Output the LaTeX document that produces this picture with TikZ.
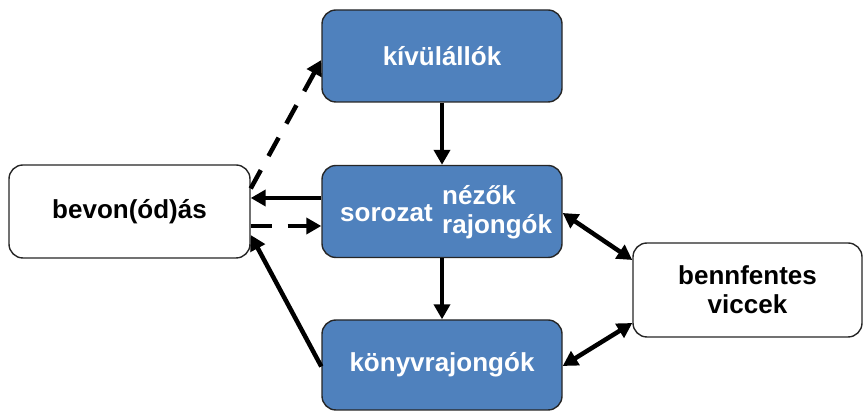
\documentclass[tikz,border=0pt]{standalone}
\usepackage{fontspec}
\setmainfont{Liberation Sans}
\usetikzlibrary{arrows.meta}
\definecolor{boxblue}{HTML}{4F81BD}
\begin{document}
\begin{tikzpicture}[x=1pt,y=1pt,
  every node/.style={font=\fontsize{26}{31}\selectfont\bfseries},
  bluebox/.style={draw=black!85,line width=1.4pt,fill=boxblue,rounded corners=14pt,
    minimum width=240pt,minimum height=92pt,text=white,inner sep=0pt},
  whitebox/.style={draw=black!85,line width=1.4pt,fill=white,rounded corners=14pt,
    inner sep=0pt,align=center},
  label/.style={text=white,inner sep=0pt},
  tip/.style={Triangle[length=15pt,width=16pt]},
  conn/.style={line width=4.5pt,-{Triangle[length=15pt,width=16pt]}},
  dconn/.style={conn,dash pattern=on 21pt off 16pt},
  biconn/.style={line width=4.5pt,{Triangle[length=15pt,width=16pt]}-{Triangle[length=15pt,width=16pt]}}]
\useasboundingbox (0,0) rectangle (863,412);
% boxes (centres given with y measured upward)
\node[bluebox] (kiv) at (442,356) {kívülállók};
\node[bluebox] (mid) at (442,200.5) {};
\node[bluebox,minimum height=90pt] (bot) at (442,47) {könyvrajongók};
\node[whitebox,minimum width=241pt,minimum height=93pt] (bev) at (129.5,200.5) {bevon(ód)ás};
\node[whitebox,minimum width=229pt,minimum height=94pt] (ben) at (747.5,122) {bennfentes\\[-2pt]viccek};
% texts of the middle box
\node[label,anchor=west] (sor) at (340,199) {sorozat};
\node[label,anchor=west,align=left] (nez) at (442,200) {nézők\\[-2pt]rajongók};
% connectors
\draw[conn] (kiv.south) -- (mid.north);
\draw[conn] (mid.south) -- (bot.north);
\draw[conn] ([yshift=13.5pt]mid.west) -- ([yshift=13.5pt]bev.east);
\draw[dconn] ([yshift=-14.5pt]bev.east) -- ([yshift=-14.5pt]mid.west);
\draw[dconn] ([yshift=23pt]bev.east) -- ([yshift=-4pt]kiv.west);
\draw[conn] ([yshift=-1.5pt]bot.west) -- ([yshift=-23.5pt]bev.east);
\draw[biconn] ([yshift=-1.5pt]mid.east) -- ([yshift=30pt]ben.west);
\draw[biconn] ([yshift=-1pt]bot.east) -- ([yshift=-33pt]ben.west);
\end{tikzpicture}
\end{document}
